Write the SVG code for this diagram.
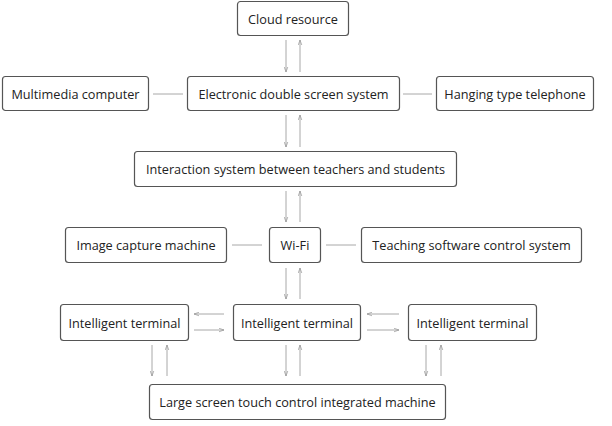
<svg xmlns="http://www.w3.org/2000/svg" width="612" height="426" viewBox="0 0 612 426">
<defs>
<marker id="ah" viewBox="0 0 10 10" refX="10" refY="5" markerWidth="5" markerHeight="5" orient="auto" markerUnits="userSpaceOnUse">
<path d="M0,1.5 L10,5 L0,8.5" fill="none" stroke="#9a9a9a" stroke-width="1.5"/>
</marker>
<style>
.n rect{fill:#fff;stroke:#555;stroke-width:1.2}
.n text{font-family:"Open Sans","Noto Sans",sans-serif;font-size:12.7px;fill:#222;text-anchor:middle;dominant-baseline:central}
.c line{stroke:#a8a8a8;stroke-width:1}
.c .a{marker-end:url(#ah)}
</style>
</defs>
<rect width="612" height="426" fill="#fff"/>
<g class="c" id="connectors">
<line class="a" x1="286" y1="40" x2="286" y2="72"/>
<line class="a" x1="300" y1="72" x2="300" y2="40"/>
<line x1="153" y1="94" x2="183" y2="94"/>
<line x1="403" y1="94" x2="432" y2="94"/>
<line class="a" x1="286" y1="115" x2="286" y2="147"/>
<line class="a" x1="300" y1="147" x2="300" y2="115"/>
<line class="a" x1="286" y1="191" x2="286" y2="222"/>
<line class="a" x1="300" y1="222" x2="300" y2="191"/>
<line x1="232" y1="245" x2="262" y2="245"/>
<line x1="326" y1="245" x2="356" y2="245"/>
<line class="a" x1="286" y1="268" x2="286" y2="299"/>
<line class="a" x1="300" y1="299" x2="300" y2="268"/>
<line class="a" x1="224" y1="314" x2="194" y2="314"/>
<line class="a" x1="194" y1="330" x2="224" y2="330"/>
<line class="a" x1="399" y1="314" x2="367" y2="314"/>
<line class="a" x1="367" y1="330" x2="399" y2="330"/>
<line class="a" x1="152" y1="345" x2="152" y2="376"/>
<line class="a" x1="167" y1="376" x2="167" y2="345"/>
<line class="a" x1="286" y1="345" x2="286" y2="376"/>
<line class="a" x1="300" y1="376" x2="300" y2="345"/>
<line class="a" x1="426" y1="345" x2="426" y2="376"/>
<line class="a" x1="441" y1="376" x2="441" y2="345"/>
</g>
<g class="n" id="cloud"><rect x="237.5" y="1.5" width="111" height="34" rx="3"/><text x="293" y="18.5">Cloud resource</text></g>
<g class="n" id="multimedia"><rect x="2.5" y="76.5" width="146" height="34" rx="3"/><text x="75.5" y="93.5">Multimedia computer</text></g>
<g class="n" id="edss"><rect x="187.5" y="76.5" width="212" height="34" rx="3"/><text x="293.5" y="93.5">Electronic double screen system</text></g>
<g class="n" id="telephone"><rect x="436.5" y="76.5" width="157" height="34" rx="3"/><text x="515" y="93.5">Hanging type telephone</text></g>
<g class="n" id="interaction"><rect x="134.5" y="151.5" width="322" height="35" rx="3"/><text x="295.5" y="169">Interaction system between teachers and students</text></g>
<g class="n" id="image"><rect x="65.5" y="227.5" width="161" height="35" rx="3"/><text x="146" y="245">Image capture machine</text></g>
<g class="n" id="wifi"><rect x="269.5" y="227.5" width="51" height="35" rx="3"/><text x="295" y="245">Wi-Fi</text></g>
<g class="n" id="teaching"><rect x="361.5" y="227.5" width="220" height="35" rx="3"/><text x="471.5" y="245">Teaching software control system</text></g>
<g class="n" id="term1"><rect x="60.5" y="304.5" width="128" height="36" rx="3"/><text x="124.5" y="322.5">Intelligent terminal</text></g>
<g class="n" id="term2"><rect x="233.5" y="304.5" width="127" height="36" rx="3"/><text x="297" y="322.5">Intelligent terminal</text></g>
<g class="n" id="term3"><rect x="408.5" y="304.5" width="128" height="36" rx="3"/><text x="472.5" y="322.5">Intelligent terminal</text></g>
<g class="n" id="large"><rect x="149.5" y="384.5" width="296" height="35" rx="3"/><text x="297.5" y="402">Large screen touch control integrated machine</text></g>
</svg>
